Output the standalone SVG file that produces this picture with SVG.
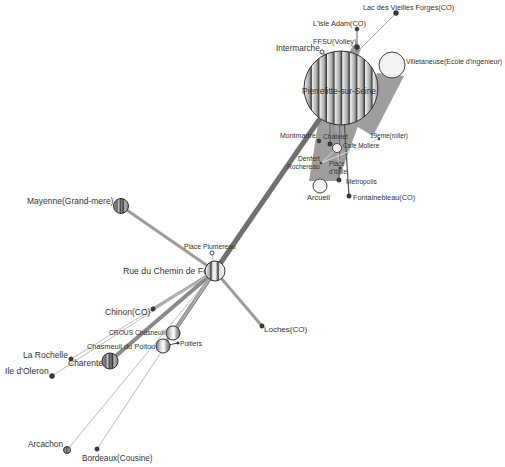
<svg xmlns="http://www.w3.org/2000/svg" width="505" height="467" viewBox="0 0 505 467">
<defs>
<linearGradient id="stripeGrad" x1="0" y1="0" x2="1" y2="0">
<stop offset="0" stop-color="#f4f4f4"/>
<stop offset="0.75" stop-color="#9a9a9a"/>
<stop offset="1" stop-color="#888"/>
</linearGradient>
<pattern id="stripes" patternUnits="userSpaceOnUse" x="304.2" y="0" width="7.6" height="10">
<rect x="0" y="0" width="7.6" height="10" fill="url(#stripeGrad)"/>
<rect x="6.2" y="0" width="1.4" height="10" fill="#3a3a3a"/>
</pattern>
<linearGradient id="g-rue" x1="0" y1="0" x2="1" y2="0">
<stop offset="0" stop-color="#fff"/>
<stop offset="0.22" stop-color="#aaa"/>
<stop offset="0.3" stop-color="#333"/>
<stop offset="0.36" stop-color="#ccc"/>
<stop offset="0.5" stop-color="#fff"/>
<stop offset="0.6" stop-color="#999"/>
<stop offset="0.66" stop-color="#333"/>
<stop offset="0.72" stop-color="#ddd"/>
<stop offset="1" stop-color="#fff"/>
</linearGradient>
<linearGradient id="g-dark" x1="0" y1="0" x2="1" y2="0">
<stop offset="0" stop-color="#999"/>
<stop offset="0.25" stop-color="#666"/>
<stop offset="0.35" stop-color="#ccc"/>
<stop offset="0.45" stop-color="#444"/>
<stop offset="0.55" stop-color="#888"/>
<stop offset="0.65" stop-color="#333"/>
<stop offset="0.75" stop-color="#bbb"/>
<stop offset="1" stop-color="#777"/>
</linearGradient>
<linearGradient id="g-soft" x1="0" y1="0" x2="1" y2="0">
<stop offset="0" stop-color="#777"/>
<stop offset="0.35" stop-color="#ddd"/>
<stop offset="0.55" stop-color="#fff"/>
<stop offset="0.75" stop-color="#aaa"/>
<stop offset="1" stop-color="#666"/>
</linearGradient>
</defs>
<style>
text{font-family:"Liberation Sans",Arial,sans-serif;fill:#333;}
.e1{stroke:#707070;stroke-width:5;fill:none;}
.e2{stroke:#9c9c9c;stroke-width:3;fill:none;}
.e3{stroke:#8a8a8a;stroke-width:4;fill:none;}
.e4{stroke:#bdbdbd;stroke-width:1;fill:none;}
.e5{stroke:#666;stroke-width:1;fill:none;}
.band{fill:#9e9e9e;stroke:none;}
.dot{fill:#3a3a3a;stroke:#222;stroke-width:0.5;}
.hollow{fill:#fff;stroke:#444;stroke-width:1;}
.light{fill:#f2f2f2;stroke:#444;stroke-width:1;}
.big{stroke:#333;stroke-width:1;}
</style>
<g id="connectors">
<polygon class="band" points="319,118 361,118 338,181 309,181"/>
<polygon class="band" points="377,73 404,76 373,136 356,126"/>
<line class="e2" x1="357" y1="47" x2="350" y2="62" style="stroke-width:9"/>
<line class="e2" x1="322" y1="52" x2="332" y2="62" style="stroke:#bbb"/>
<line class="e4" x1="396" y1="13" x2="354" y2="55" style="stroke:#aaa"/>
<line class="e5" x1="357" y1="29" x2="357" y2="52"/>
<line class="e1" x1="215" y1="271" x2="341" y2="88"/>
<line class="e5" x1="344" y1="118" x2="349" y2="196" style="stroke:#555;stroke-width:1.2"/>
<line class="e5" x1="330" y1="120" x2="330" y2="144"/>
<line class="e5" x1="333" y1="122" x2="335" y2="146" style="stroke:#888"/>
<line class="e5" x1="340" y1="122" x2="339" y2="180"/>
<line class="e4" x1="321" y1="163" x2="337" y2="148" style="stroke:#ddd"/>
<line class="e4" x1="379" y1="139" x2="321" y2="163" style="stroke:#ddd"/>
<line class="e4" x1="340" y1="168" x2="337" y2="148" style="stroke:#ccc"/>
<line class="e2" x1="215" y1="271" x2="121" y2="206"/>
<line class="e2" x1="215" y1="271" x2="153" y2="309"/>
<line class="e3" x1="215" y1="271" x2="173" y2="333" style="stroke:#7a7a7a"/>
<line class="e2" x1="215" y1="271" x2="163" y2="346"/>
<line class="e3" x1="215" y1="271" x2="110" y2="361"/>
<line class="e4" x1="215" y1="271" x2="52" y2="376"/>
<line class="e4" x1="215" y1="271" x2="71" y2="359"/>
<line class="e4" x1="215" y1="271" x2="67" y2="450"/>
<line class="e4" x1="215" y1="271" x2="97" y2="449"/>
<line class="e2" x1="215" y1="271" x2="262" y2="326"/>
<line class="e4" x1="215" y1="271" x2="212" y2="253" style="stroke:#ccc;stroke-width:1.5"/>
<line class="e5" x1="163" y1="346" x2="178" y2="343" style="stroke:#444"/>
</g>
<g id="n-pierrefitte"><circle class="big" cx="341" cy="88" r="37" fill="url(#stripes)"/><text x="339" y="94" font-size="8.3" text-anchor="middle">Pierrefitte-sur-Seine</text></g>
<g id="n-villetaneuse"><circle class="light" cx="392" cy="65" r="13"/><text x="406" y="64" font-size="7">Villetaneuse(Ecole d'ingenieur)</text></g>
<g id="n-intermarche"><circle class="hollow" cx="322" cy="52" r="2"/><text x="276" y="51" font-size="8.2">Intermarche</text></g>
<g id="n-ffsu"><circle class="dot" cx="357" cy="47" r="2.5"/><text x="313" y="44" font-size="7.3">FFSU(Volley)</text></g>
<g id="n-isle"><circle class="dot" cx="357" cy="29" r="2"/><text x="313" y="26" font-size="7.3">L'isle Adam(CO)</text></g>
<g id="n-lac"><circle class="dot" cx="396" cy="13" r="2.5"/><text x="363" y="10" font-size="7.3">Lac des Vieilles Forges(CO)</text></g>
<g id="n-montmartre"><circle class="dot" cx="319" cy="141" r="2"/><text x="280" y="138" font-size="7">Montmartre</text></g>
<g id="n-chatelet"><circle class="dot" cx="330" cy="144" r="2.2"/><text x="323" y="139" font-size="6.7">Chatelet</text></g>
<g id="n-cafe"><circle class="light" cx="337" cy="148" r="4.5"/><text x="343" y="148" font-size="6.4">Cafe Moliere</text></g>
<g id="n-19eme"><circle class="dot" cx="379" cy="139" r="1"/><text x="370" y="138" font-size="6.4">19eme(roller)</text></g>
<g id="n-denfert"><circle class="dot" cx="321" cy="163" r="1"/><text x="298" y="161" font-size="6.7">Denfert</text><text x="287" y="169" font-size="6.7">Rochereau</text></g>
<g id="n-italie"><circle class="dot" cx="340" cy="168" r="1.2"/><text x="329" y="166" font-size="6.3">Place</text><text x="329" y="174" font-size="6.3">d'Italie</text></g>
<g id="n-metropolis"><circle class="dot" cx="339" cy="180" r="2.2"/><text x="346" y="184" font-size="6.7">Metropolis</text></g>
<g id="n-arcueil"><circle class="light" cx="320" cy="186" r="7"/><text x="318.5" y="200" font-size="7.5" text-anchor="middle">Arcueil</text></g>
<g id="n-fontainebleau"><circle class="dot" cx="349" cy="196" r="2.2"/><text x="353" y="200" font-size="7.3">Fontainebleau(CO)</text></g>
<g id="n-plumereau"><circle class="hollow" cx="212" cy="253" r="2"/><text x="184" y="249" font-size="6.8">Place Plumereau</text></g>
<g id="n-rue"><text x="123" y="274" font-size="8.7">Rue du Chemin de Fer</text><circle class="big" cx="215" cy="271" r="10" fill="url(#g-rue)"/></g>
<g id="n-mayenne"><circle class="big" cx="121" cy="206" r="7.5" fill="url(#g-dark)"/><text x="27" y="204" font-size="8.5">Mayenne(Grand-mere)</text></g>
<g id="n-chinon"><circle class="dot" cx="153" cy="309" r="2.2"/><text x="105" y="315" font-size="8.5">Chinon(CO)</text></g>
<g id="n-loches"><circle class="dot" cx="262" cy="326" r="2.2"/><text x="264" y="332" font-size="8">Loches(CO)</text></g>
<g id="n-crous"><text x="109" y="335" font-size="6.7">CROUS Chasneuil</text><circle class="big" cx="173" cy="333" r="7" fill="url(#g-soft)"/></g>
<g id="n-chasmeuil"><text x="87" y="349" font-size="7.4">Chasmeuil du Poitou</text><circle class="big" cx="163" cy="346" r="7" fill="url(#g-soft)"/></g>
<g id="n-poitiers"><circle class="dot" cx="178" cy="343" r="1.2"/><text x="180" y="346" font-size="6.6">Poitiers</text></g>
<g id="n-rochelle"><circle class="dot" cx="71" cy="359" r="2.2"/><text x="23" y="358" font-size="8.5">La Rochelle</text></g>
<g id="n-charente"><text x="68" y="366" font-size="8.5">Charente</text><circle class="big" cx="110" cy="361" r="8" fill="url(#g-dark)"/></g>
<g id="n-oleron"><circle class="dot" cx="52" cy="376" r="2.5"/><text x="5" y="374" font-size="8.6">Ile d'Oleron</text></g>
<g id="n-arcachon"><circle class="big" cx="67" cy="450" r="3.5" fill="url(#g-dark)"/><text x="28" y="447" font-size="8.3">Arcachon</text></g>
<g id="n-bordeaux"><circle class="dot" cx="97" cy="449" r="2.2"/><text x="82" y="461" font-size="8.2">Bordeaux(Cousine)</text></g>
</svg>
